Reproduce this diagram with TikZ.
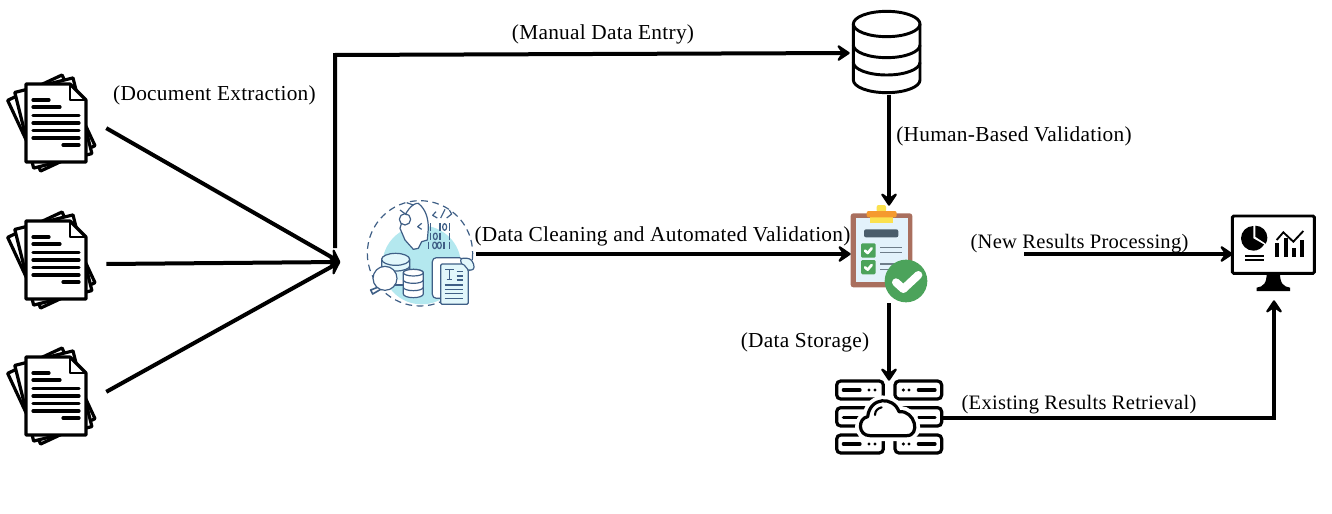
\documentclass[tikz,border=0pt]{standalone}
\usepackage{fontspec}
\setmainfont[LetterSpace=1.3]{Liberation Serif}
\usetikzlibrary{arrows.meta}
\definecolor{aiblue}{HTML}{3F5F86}
\definecolor{aicyan}{HTML}{B4E8EF}
\definecolor{aipale}{HTML}{E2F7FB}
\definecolor{clipbrown}{HTML}{A96F5E}
\definecolor{clippaper}{HTML}{E3F2FB}
\definecolor{cliporange}{HTML}{F59A2E}
\definecolor{clipyellow}{HTML}{FBE14F}
\definecolor{clipdark}{HTML}{4A5D6B}
\definecolor{clipgreen}{HTML}{4CA35B}
\tikzset{
  flow/.style={line width=3pt,-{Stealth[length=12pt,width=16pt,inset=5.5pt,round]}},
  lbl/.style={font=\fontsize{16}{18}\selectfont,inner sep=0pt,yshift=-2pt},
  lblsmall/.style={lbl,font=\fontsize{15.4}{18}\selectfont},
  spot/.style={inner sep=0pt,minimum size=0pt},
  hard/.style={line width=2.4pt,line cap=round,line join=round},
  sheet/.style={hard,fill=white},
  pics/paperstack/.style={code={
    \draw[sheet,xshift=-3.5pt,rotate=25] (-30,-39) rectangle (30,39);
    \draw[sheet,xshift=-2pt,rotate=14] (-30,-39) rectangle (30,39);
    \draw[sheet] (-30,-39) -- (14,-39) -- (30,-23) -- (30,39) -- (-30,39) -- cycle;
    \draw[hard,line width=1.8pt] (14,-39) -- (14,-23) -- (30,-23);
    \foreach \a/\b/\y in {-23/-7/-23,-23/4/-16,-23/23/-7.5,-23/23/0,-23/23/7.5,-23/23/15,7/23/22} {
      \draw[hard] (\a,\y) -- (\b,\y);
    }
  }}
}
\begin{document}
\begin{tikzpicture}[x=0.75pt,y=-0.75pt]
\useasboundingbox (0,0) rectangle (1332,514);

% Source documents
\pic at (56,123) {paperstack};
\pic at (56,260) {paperstack};
\pic at (56,396) {paperstack};

% Cleaning icon, one unit is a third of a pixel here
\begin{scope}[shift={(350,190)},x=0.25pt,y=-0.25pt,aiblue,line width=0.9pt,line join=round]
  \draw[dashed,dash pattern=on 5pt off 3.5pt] (210,190) circle (158);
  \fill[aicyan] (215,225) circle (118);
  \draw[fill=white] (150,115) .. controls (165,60) and (190,38) .. (205,40)
    .. controls (230,60) and (235,90) .. (235,115) -- (232,150) -- (215,155)
    -- (205,175) -- (190,178) -- (165,150) -- cycle;
  \draw[fill=white] (165,88) circle (17);
  \draw (150,60) -- (170,75) (170,38) -- (190,45);
  \draw (215,100) -- (203,110) -- (215,118);
  % code brackets and bits
  \draw (258,65) -- (248,76) -- (262,84) (272,84) -- (285,58) (298,60) -- (305,72) -- (290,84);
  \foreach \x in {242,270,298} {\draw (\x,100) -- (\x,122) (\x,128) -- (\x,150);}
  \draw (284,111) ellipse (6 and 10) (256,139) ellipse (6 and 10);
  \foreach \x in {236,282,298} {\draw (\x,155) -- (\x,177);}
  \draw (254,166) ellipse (6 and 10) (268,166) ellipse (6 and 10);
  % cylinders and lens
  \draw[fill=aipale] (95,208) -- (95,285) -- (179,285) -- (179,208) arc (0:-180:42 and 15) -- cycle;
  \draw[fill=white] (95,270) -- (95,285) -- (179,285) -- (179,270);
  \draw[fill=aipale] (137,208) ellipse (42 and 18);
  \draw (95,228) arc (180:0:42 and 15);
  \draw[line width=1.2pt,fill=white] (88,290) -- (62,300) -- (68,312) -- (92,298) -- cycle;
  \draw[fill=white] (105,265) circle (36);
  \draw[fill=white] (160,248) -- (160,312) arc (180:0:30 and 11) -- (220,248) arc (0:-180:30 and 10);
  \draw[fill=white] (190,248) ellipse (30 and 10);
  \draw (160,270) arc (180:0:30 and 10) (160,292) arc (180:0:30 and 10);
  % paper sheets
  \draw[fill=white,rounded corners=3pt] (247,203) rectangle (340,325);
  \draw[fill=aipale,rounded corners=2pt] (330,205) -- (360,205) -- (372,222) -- (372,240) -- (340,240) -- cycle;
  \draw[fill=aipale,rounded corners=1pt] (272,222) -- (340,222) -- (355,240) -- (355,343) -- (272,343) -- cycle;
  \draw[line width=1.1pt] (285,238) -- (312,238) (298,238) -- (298,268) (290,268) -- (306,268);
  \foreach \y in {245,258,270} {\draw (320,\y) -- (340,\y);}
  \foreach \y in {285,298,310,325} {\draw (284,\y) -- (340,\y);}
\end{scope}

% Database icon
\begin{scope}[shift={(840,5)},x=0.25pt,y=-0.25pt,line width=2.2pt,line join=round]
  \draw (140,57) ellipse (100 and 38);
  \draw (40,57) -- (40,225) arc (180:0:100 and 38) -- (240,57);
  \draw (40,120) arc (180:0:100 and 38) (40,172) arc (180:0:100 and 38);
\end{scope}

% Clipboard icon
\begin{scope}[shift={(835,195)},x=0.25pt,y=-0.25pt]
  \fill[clipbrown,rounded corners=2pt] (47,55) rectangle (232,277);
  \fill[clippaper] (62,70) rectangle (218,262);
  \fill[clipyellow,rounded corners=1.5pt] (125,30) rectangle (153,52);
  \fill[clipyellow] (105,60) rectangle (175,85);
  \fill[cliporange,rounded corners=1.5pt] (95,48) rectangle (185,67);
  \fill[clipdark,rounded corners=1.5pt] (87,103) rectangle (190,127);
  \fill[clipgreen,rounded corners=1pt] (78,145) rectangle (122,188);
  \fill[clipgreen,rounded corners=1pt] (78,195) rectangle (122,238);
  \foreach \y in {167,217} {
    \draw[white,line width=2pt,line cap=round,line join=round] (90,\y) -- (98,\y+7) -- (110,\y-7);
    \draw[clipdark!80,line width=1.2pt] (135,\y-10) -- (200,\y-10) (135,\y+6) -- (200,\y+6);
  }
  \fill[clipgreen] (213,258) circle (64);
  \draw[white,line width=6pt,line cap=round,line join=round] (183,262) -- (205,282) -- (250,240);
\end{scope}

% Storage icon
\begin{scope}[shift={(825,370)},x=0.25pt,y=-0.25pt,line width=2.4pt,line cap=round]
  \foreach \y in {33,195} {
    \draw[rounded corners=3pt] (35,\y) rectangle (175,\y+54);
    \draw[rounded corners=3pt] (210,\y) rectangle (350,\y+54);
    \draw (55,\y+27) -- (105,\y+27) (280,\y+27) -- (330,\y+27);
    \foreach \x in {132,150,235,252} {\fill (\x,\y+27) circle (5);}
  }
  \draw[rounded corners=3pt] (35,113) rectangle (350,168);
  \draw (55,143) -- (100,143) (280,143) -- (330,143);
  \draw[white,line width=8pt,fill=white] (135,197) .. controls (98,197) and (98,145) .. (128,140)
    .. controls (135,80) and (205,78) .. (222,125) .. controls (270,120) and (288,197) .. (245,197) -- cycle;
  \draw[fill=white,line join=round] (135,197) .. controls (98,197) and (98,145) .. (128,140)
    .. controls (135,80) and (205,78) .. (222,125) .. controls (270,120) and (288,197) .. (245,197) -- cycle;
  \draw[line width=1.6pt] (150,135) .. controls (150,122) and (158,115) .. (170,112);
\end{scope}

% Results monitor icon
\begin{scope}[shift={(1220,205)},x=0.25pt,y=-0.25pt]
  \draw[line width=2.2pt,rounded corners=1pt] (37,33) rectangle (283,205);
  \fill (140,205) -- (180,205) .. controls (180,235) and (190,245) .. (210,248) -- (210,258)
    -- (110,258) -- (110,248) .. controls (130,245) and (140,235) .. cycle;
  \fill (100,100) -- (100,63) arc (-90:-330:37) -- cycle;
  \fill (106,95) -- (106,62) arc (-90:30:36) -- cycle;
  \draw[line width=1.3pt] (75,152) -- (132,152) (75,165) -- (132,165);
  \foreach \x/\y in {172/115,197/100,222/130,247/105} {\fill (\x-6,\y) rectangle (\x+6,157);}
  \draw[line width=1.4pt] (170,105) -- (190,82) -- (220,110) -- (250,78);
\end{scope}

% Anchors of the icons
\node[spot] (doca) at (106,128) {};
\node[spot] (docb) at (106,264) {};
\node[spot] (docc) at (106,392) {};
\coordinate (hub) at (340,262);
\coordinate (vtop) at (335,248);
\coordinate (corner) at (335,55);
\node[spot] (aiout) at (476,254) {};
\node[spot] (dbin) at (850,53) {};
\node[spot] (dbout) at (889,95) {};
\node[spot] (chkin) at (889,206) {};
\node[spot] (chkleft) at (851,254) {};
\node[spot] (chkout) at (889,303) {};
\node[spot] (srvin) at (889,381) {};
\node[spot] (srvout) at (943,418) {};
\coordinate (rise) at (1274,418);
\node[spot] (monin) at (1274,300) {};
\node[spot] (monleft) at (1233,254) {};
\coordinate (newfrom) at (1024,254);

% Connectors
\draw[flow] (doca) -- (hub);
\draw[flow] (docb) -- (hub);
\draw[flow] (docc) -- (hub);
\draw[flow] (vtop) -- (corner) -- (dbin);
\draw[flow] (aiout) -- (chkleft);
\draw[flow] (dbout) -- (chkin);
\draw[flow] (chkout) -- (srvin);
\draw[flow] (newfrom) -- (monleft);
\draw[flow] (srvout) -- (rise) -- (monin);

% Labels
\node[lbl] (lblextract) at (214.5,93) {(Document Extraction)};
\node[lbl] (lblmanual) at (603,32) {(Manual Data Entry)};
\node[lbl] (lblhuman) at (1014,134) {(Human-Based Validation)};
\node[lbl] (lblclean) at (662.5,234) {(Data Cleaning and Automated Validation)};
\node[lblsmall] (lblnew) at (1079.5,241) {(New Results Processing)};
\node[lbl] (lblstore) at (805,340) {(Data Storage)};
\node[lblsmall] (lblold) at (1079,402) {(Existing Results Retrieval)};
\end{tikzpicture}
\end{document}
